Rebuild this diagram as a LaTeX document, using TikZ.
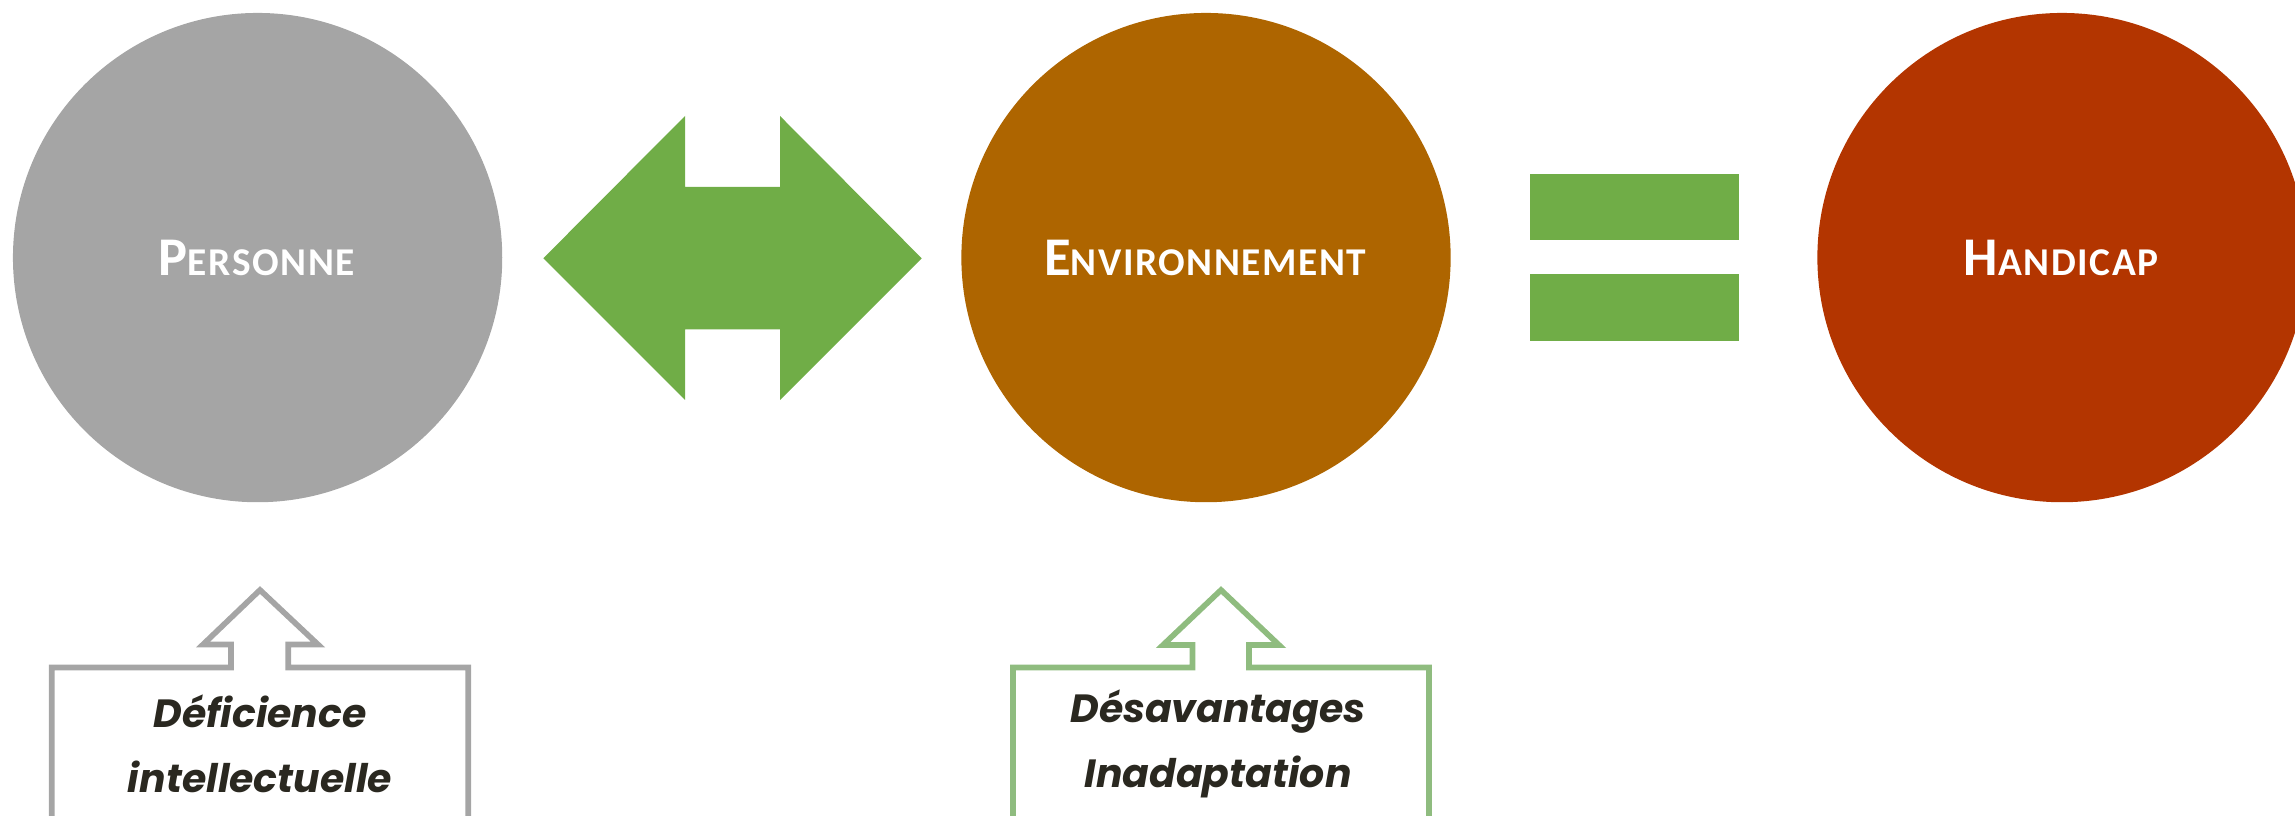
\documentclass[tikz,border=0pt]{standalone}
\usepackage{fontspec}
\setmainfont{Carlito}
\newfontfamily\calloutfont{Poppins}
\definecolor{persgray}{RGB}{165,165,165}
\definecolor{envorange}{RGB}{174,101,0}
\definecolor{handred}{RGB}{179,53,0}
\definecolor{linkgreen}{RGB}{112,173,71}
\definecolor{boxgreen}{RGB}{143,188,127}
\definecolor{calloutink}{RGB}{42,40,32}
\newcommand{\sclabel}[2]{\textbf{\addfontfeature{LetterSpace=4}\fontsize{15.5}{17}\selectfont #1\fontsize{11.2}{13}\selectfont #2}}

\begin{document}
\begin{tikzpicture}[x=0.01cm,y=-0.01cm,
		disc/.style={circle, minimum size=4.89cm, inner sep=0pt, text=white},
		calloutbox/.style={line width=1.6pt, fill=white, miter limit=20},
		callouttext/.style={align=center, text=calloutink, font=\calloutfont\bfseries\itshape\fontsize{11.2}{18.5}\selectfont}]
	\useasboundingbox (0,0) rectangle (2295,816);
	\clip (0,0) rectangle (2295,816);
	% the three discs
	\node[disc, fill=persgray] (pers) at (257.6,257.6) {\sclabel{P}{ERSONNE}};
	\node[disc, fill=envorange] (env) at (1206,257.6) {\sclabel{E}{NVIRONNEMENT}};
	\node[disc, fill=handred] (hand) at (2062,257.6) {\sclabel{H}{ANDICAP}};
	% double arrow between person and environment
	\fill[linkgreen] (543.3,258.3) -- (685,116) -- (685,187) -- (780,187) -- (780,116) -- (921.7,258.3)
		-- (780,400) -- (780,329.3) -- (685,329.3) -- (685,400) -- cycle;
	% equals sign
	\fill[linkgreen] (1529.6,174.2) rectangle (1738.9,240);
	\fill[linkgreen] (1529.6,273.7) rectangle (1738.9,341);
	% callouts
	\draw[calloutbox, draw=persgray] (51.8,900) -- (51.8,667.5) -- (231,667.5) -- (231,644.5) -- (203,644.5) -- (260,590)
		-- (318,644.5) -- (288.3,644.5) -- (288.3,667.5) -- (468.3,667.5) -- (468.3,900);
	\node[callouttext] (defi) at (260,744) {Déficience\\intellectuelle};
	\draw[calloutbox, draw=boxgreen] (1013,900) -- (1013,667.5) -- (1192.5,667.5) -- (1192.5,645) -- (1163,645) -- (1221,590)
		-- (1279,645) -- (1249,645) -- (1249,667.5) -- (1429,667.5) -- (1429,900);
	\node[callouttext] (desa) at (1218,744) {Désavantages\\Inadaptation};
\end{tikzpicture}
\end{document}
